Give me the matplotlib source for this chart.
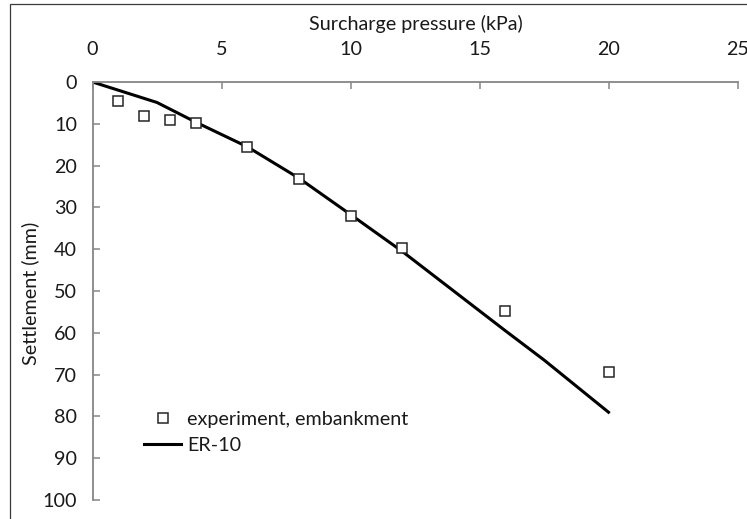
import matplotlib
matplotlib.use("Agg")
import matplotlib.pyplot as plt
from matplotlib.patches import Rectangle

# Measured settlement under the surcharge
exp_pressure = [1, 2, 3, 4, 6, 8, 10, 12, 16, 20]
exp_settlement = [4.5, 8.2, 9.1, 9.9, 15.5, 23.2, 32.1, 39.8, 54.8, 69.3]

# ER-10 model prediction
er10_pressure = [0, 2.5, 4, 6, 8, 10, 12, 14, 16, 17.5, 20]
er10_settlement = [0, 4.9, 9.6, 15.5, 23.0, 31.7, 40.5, 50.0, 59.5, 66.5, 79.0]

x_ticks = [0, 5, 10, 15, 20, 25]
y_ticks = [0, 10, 20, 30, 40, 50, 60, 70, 80, 90, 100]

W, H = 747, 519
FS = 14.2
plt.rcParams["font.family"] = ["Lato", "DejaVu Sans"]
fig = plt.figure(figsize=(W / 100, H / 100), dpi=100)

# axes box in pixel terms: x from 92.5 to 737.5, y from 82 (top) to 500 (bottom)
ax = fig.add_axes([92.5 / W, 1 - 500 / H, 645 / W, 418 / H])

ax.plot(er10_pressure, er10_settlement, color="black", lw=2.2, label="ER-10", zorder=2)
ax.plot(exp_pressure, exp_settlement, ls="none", marker="s", ms=7.6,
        mfc="white", mec="#262626", mew=1.1, label="experiment, embankment", zorder=3)

ax.set_xlim(0, 25)
ax.set_ylim(100, 0)
ax.set_xticks(x_ticks)
ax.set_yticks(y_ticks)
ax.xaxis.tick_top()

axis_gray = "#868686"
for side in ("right", "bottom"):
    ax.spines[side].set_visible(False)
for side in ("left", "top"):
    ax.spines[side].set_color(axis_gray)
    ax.spines[side].set_linewidth(1.3)

ax.tick_params(axis="x", direction="in", length=5, width=1.1, color=axis_gray,
               pad=17, labelsize=FS, labelcolor="#1a1a1a")
ax.tick_params(axis="y", direction="in", length=5, width=1.1, color=axis_gray,
               pad=11, labelsize=FS, labelcolor="#1a1a1a")
ax.patch.set_visible(False)

fig.text(416 / W, 1 - 24 / H, "Surcharge pressure (kPa)", ha="center", va="center",
         fontsize=FS, color="#1a1a1a")
fig.text(30 / W, 1 - 293 / H, "Settlement (mm)", ha="center", va="center",
         rotation=90, fontsize=FS, color="#1a1a1a")

handles, labels = ax.get_legend_handles_labels()
leg = ax.legend(handles[::-1], labels[::-1], loc="upper left",
                bbox_to_anchor=(144 / W, 1 - 411 / H), bbox_transform=fig.transFigure,
                frameon=False, fontsize=FS, handlelength=1.9, handletextpad=0.3,
                labelspacing=0.45, borderpad=0, borderaxespad=0)
for t in leg.get_texts():
    t.set_color("#1a1a1a")

# outer chart frame
fig.patches.append(Rectangle((10 / W, -0.2), 1.5, 1 - 4 / H + 0.2,
                             transform=fig.transFigure, fill=False,
                             ec="#3a3a3a", lw=0.9))

fig.savefig("out.png", dpi=100)
